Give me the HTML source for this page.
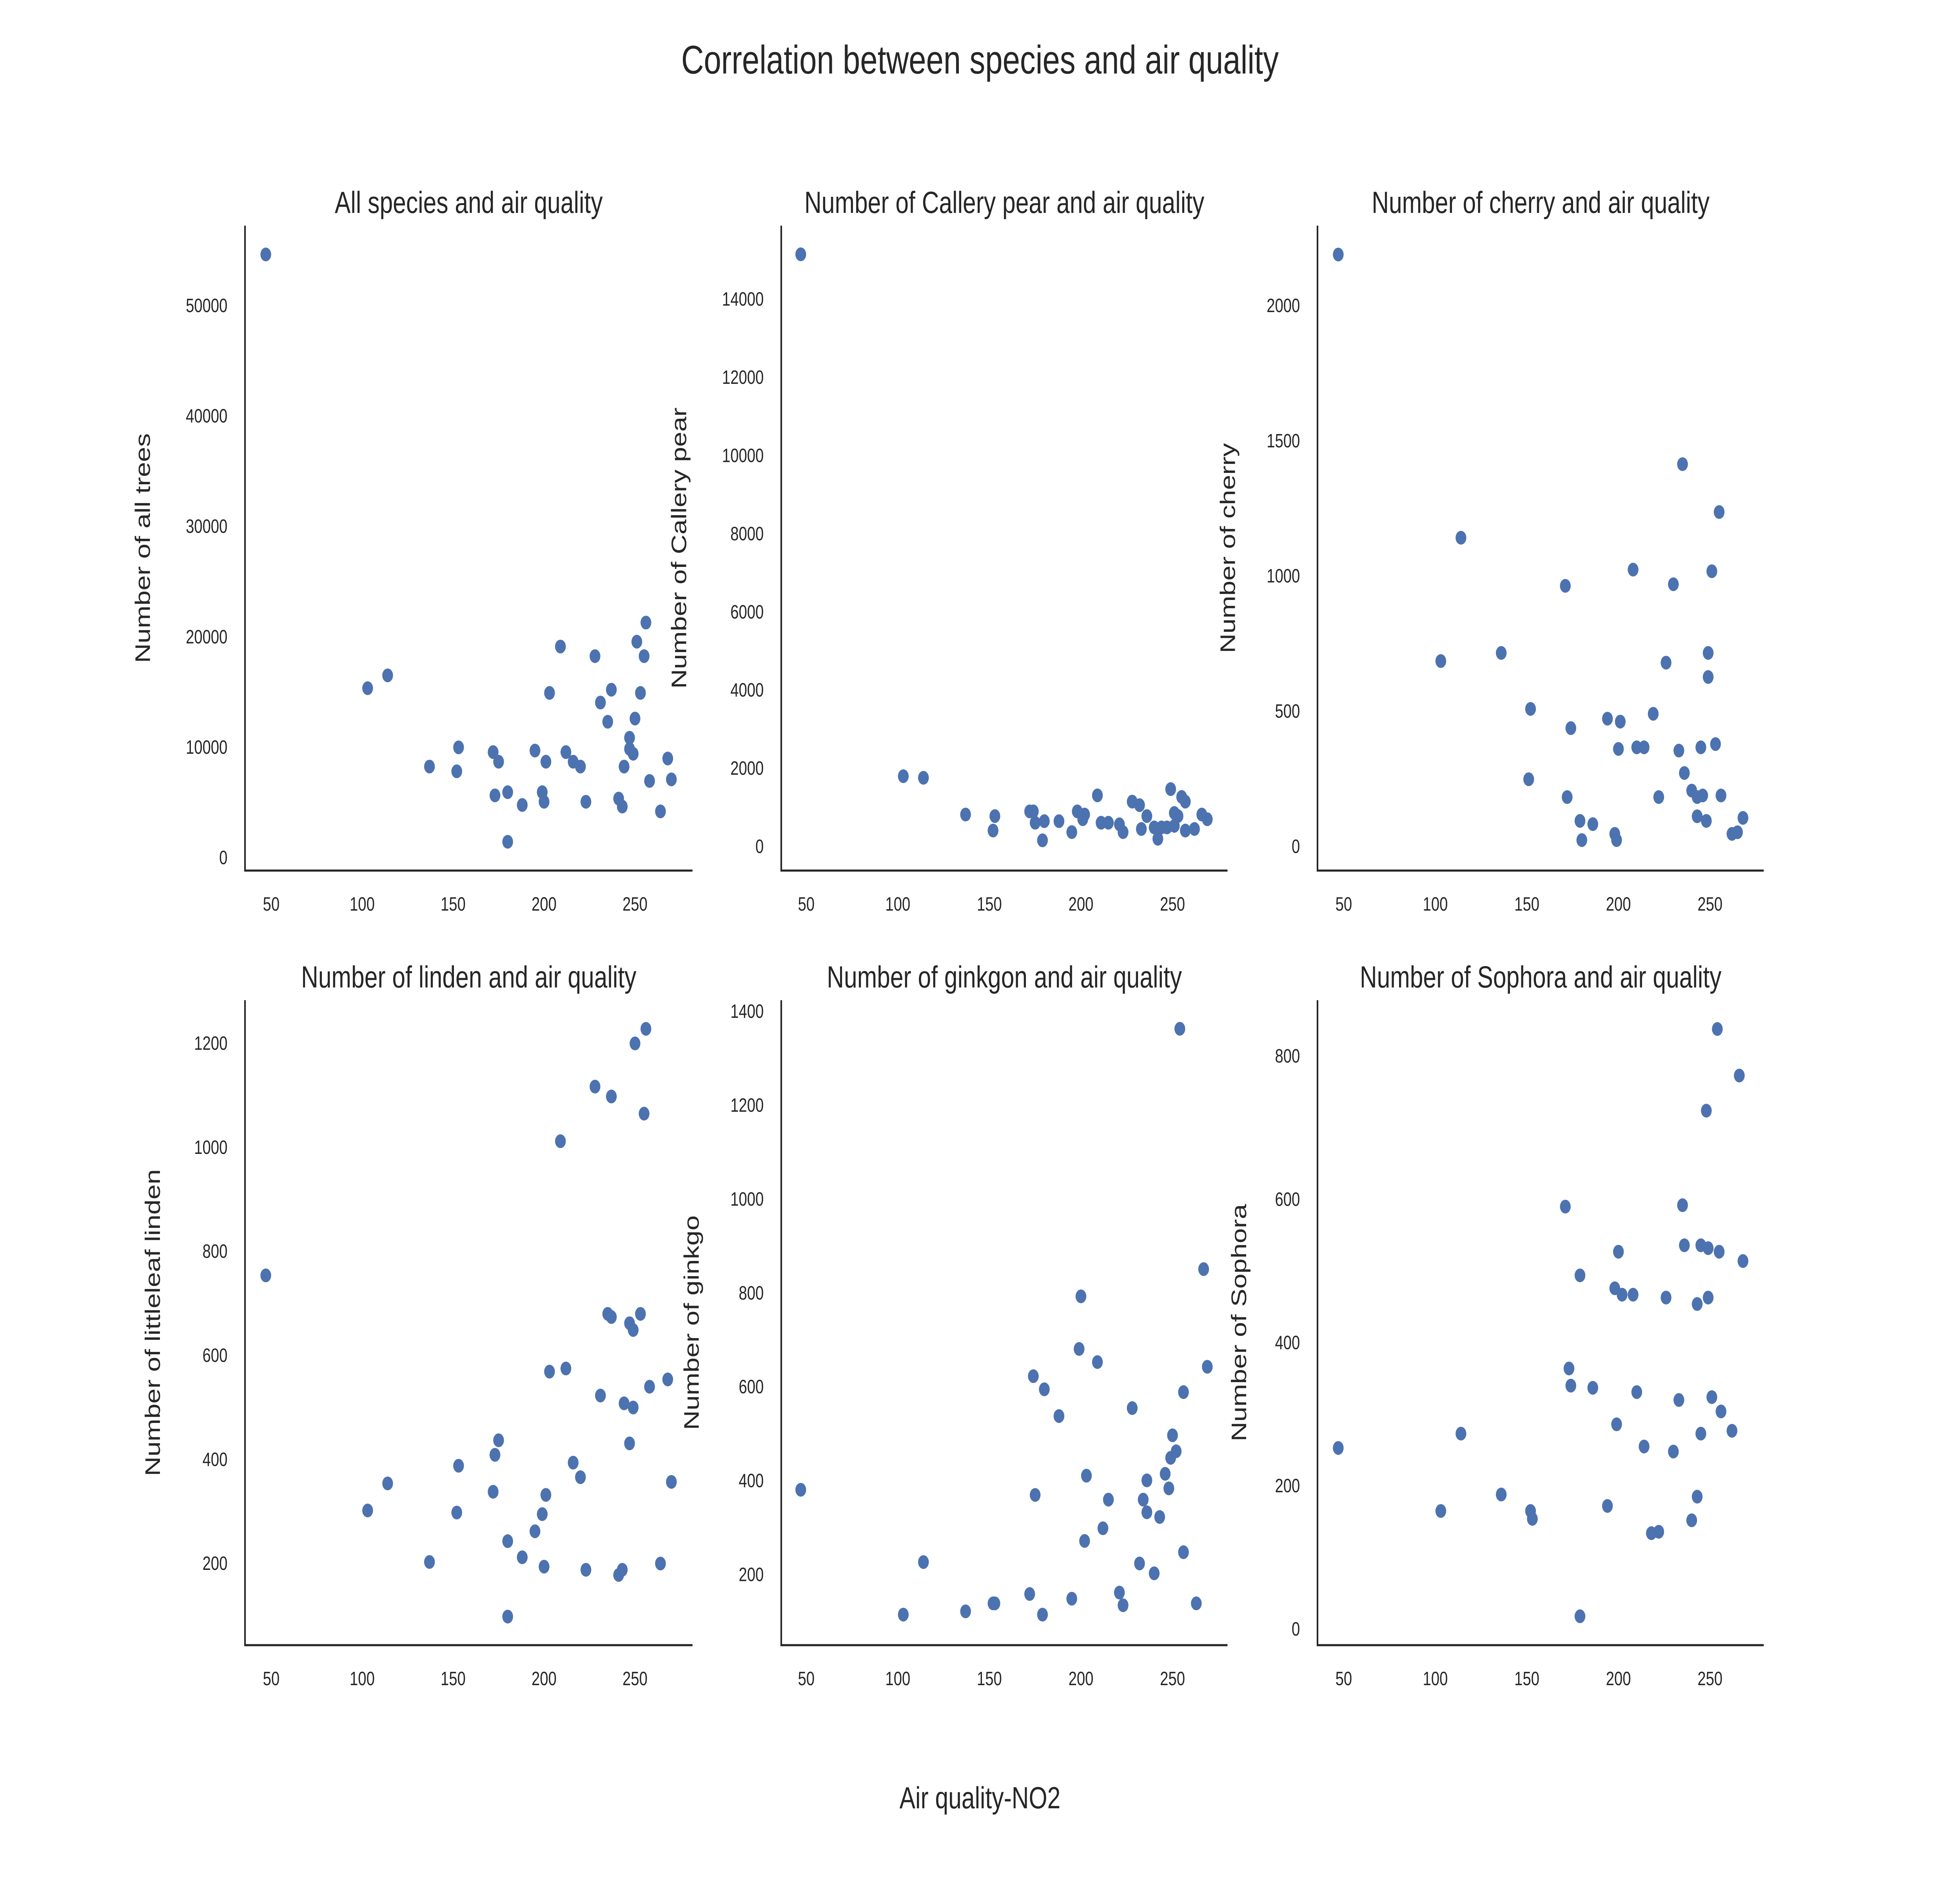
<!DOCTYPE html>
<html><head><meta charset="utf-8"><style>
html,body{margin:0;padding:0;background:#fff;width:100%;height:100%;overflow:hidden;}
svg{display:block;position:absolute;left:0;top:0;width:100vw;height:100vh;font-family:"Liberation Sans","DejaVu Sans",sans-serif;}
</style></head><body>
<svg id="chart" viewBox="0 0 1568 1176" preserveAspectRatio="none" xmlns="http://www.w3.org/2000/svg">
<rect width="1568" height="1176" fill="#fff"/>
<text x="784" y="46" font-size="25" text-anchor="middle" fill="#262626">Correlation between species and air quality</text>
<text x="784" y="1130" font-size="19" text-anchor="middle" fill="#262626">Air quality-NO2</text>
</svg>
<script>
const xTicks=[50,100,150,200,250];
const allX=[47,103,114,137,153,152,172,175,173,180,180,188,195,199,200,201,203,209,212,216,220,223,228,231,235,237,241,243,244,247,247,249,250,251,253,255,256,258,264,268,270];
const allY=[54640,15360,16520,8260,10000,7830,9570,8700,5650,5940,1450,4780,9710,5940,5070,8700,14930,19130,9570,8700,8260,5070,18260,14060,12320,15220,5360,4640,8260,10870,9860,9420,12610,19570,14930,18260,21300,6960,4200,8990,7100];
const pearX=[47,103,114,137,153,152,172,174,175,180,179,188,195,198,201,202,209,211,215,221,223,228,232,233,236,240,242,244,247,249,251,251,253,255,257,257,262,266,269];
const pearY=[15150,1800,1760,820,780,410,900,900,610,650,160,650,370,900,700,820,1310,610,610,570,370,1150,1060,450,780,490,200,490,490,1470,530,860,780,1270,1150,410,450,820,700];
const cherryX=[47,103,114,136,152,151,171,174,172,179,180,186,194,198,199,200,201,208,210,214,219,222,226,230,233,235,236,240,243,243,245,246,248,249,249,251,253,255,256,262,265,268];
const cherryY=[2189,686,1142,716,509,249,964,438,183,95,24,83,473,47,24,361,462,1024,367,367,491,183,680,970,355,1414,272,207,112,183,367,189,95,627,716,1018,379,1237,189,47,53,106];
const lindenX=[47,103,114,137,153,152,172,173,175,180,180,188,195,199,200,201,203,209,212,216,220,223,228,231,235,237,237,241,243,244,247,247,249,249,250,253,255,256,258,264,268,270];
const lindenY=[754,302,354,203,388,298,338,409,437,243,98,212,262,295,194,332,569,1012,575,394,366,188,1117,523,680,674,1098,178,188,508,662,431,649,500,1200,680,1065,1228,540,200,554,357];
const ginkgoX=[47,103,114,137,153,152,172,174,175,180,179,188,195,199,200,202,203,209,212,215,221,223,228,232,234,236,236,240,243,246,248,249,250,252,254,256,256,263,267,269];
const ginkgoY=[381,115,227,122,139,139,159,623,370,595,115,538,149,681,793,272,411,653,299,360,162,135,555,224,360,401,333,203,323,415,384,449,497,463,1363,248,589,139,851,643];
const sophoraX=[47,103,114,136,152,153,171,173,174,179,179,186,194,198,199,200,202,208,210,214,218,222,226,230,233,235,236,240,243,243,245,245,249,248,249,251,254,255,256,262,266,268];
const sophoraY=[253,165,273,188,165,154,590,364,340,494,18,337,172,476,286,527,467,467,331,255,134,136,463,248,320,592,536,152,454,185,273,536,532,724,463,324,838,527,304,277,773,514];
const ticksAll=[0,10000,20000,30000,40000,50000];
const ticksPear=[0,2000,4000,6000,8000,10000,12000,14000];
const ticksCherry=[0,500,1000,1500,2000];
const ticksLinden=[200,400,600,800,1000,1200];
const ticksGinkgo=[200,400,600,800,1000,1200,1400];
const ticksSophora=[0,200,400,600,800];

const NS="http://www.w3.org/2000/svg";
const svg=document.getElementById('chart');
function mk(tag,attrs,parent){const e=document.createElementNS(NS,tag);for(const k in attrs)e.setAttribute(k,attrs[k]);(parent||svg).appendChild(e);return e;}
function lin(d0,d1,r0,r1){return v=>r0+(v-d0)*(r1-r0)/(d1-d0);}

const panels=[
 {id:'all',title:'All species and air quality',ylab:'Number of all trees',L:196,R:554,T:141,B:544,xa:[50,217,250,508],ya:[0,536,50000,191],xs:allX,ys:allY,ticks:ticksAll,ylx:120},
 {id:'pear',title:'Number of Callery pear and air quality',ylab:'Number of Callery pear',L:625,R:982,T:141,B:544,xa:[50,645,250,938],ya:[0,529,14000,187],xs:pearX,ys:pearY,ticks:ticksPear,ylx:549},
 {id:'cherry',title:'Number of cherry and air quality',ylab:'Number of cherry',L:1054,R:1411,T:141,B:544,xa:[50,1075,250,1368],ya:[0,529,2000,191],xs:cherryX,ys:cherryY,ticks:ticksCherry,ylx:988},
 {id:'linden',title:'Number of linden and air quality',ylab:'Number of littleleaf linden',L:196,R:554,T:625,B:1028,xa:[50,217,250,508],ya:[200,977,1200,652],xs:lindenX,ys:lindenY,ticks:ticksLinden,ylx:128},
 {id:'ginkgo',title:'Number of ginkgon and air quality',ylab:'Number of ginkgo',L:625,R:982,T:625,B:1028,xa:[50,645,250,938],ya:[200,984,1400,632],xs:ginkgoX,ys:ginkgoY,ticks:ticksGinkgo,ylx:559},
 {id:'sophora',title:'Number of Sophora and air quality',ylab:'Number of Sophora',L:1054,R:1411,T:625,B:1028,xa:[50,1075,250,1368],ya:[0,1018,800,660],xs:sophoraX,ys:sophoraY,ticks:ticksSophora,ylx:997}
];
panels.forEach(p=>{
 const g=mk('g',{});
 
 
 const xf=lin(p.xa[0],p.xa[2],p.xa[1],p.xa[3]);
 const yf=lin(p.ya[0],p.ya[2],p.ya[1],p.ya[3]);
 const t=mk('text',{x:(p.L+p.R)/2,y:p.T-8,'font-size':19,'text-anchor':'middle',fill:'#262626'},g);
 t.textContent=p.title;
 
 
 const yl=mk('text',{x:p.ylx,y:(p.T+p.B)/2,'font-size':17,'text-anchor':'middle',fill:'#262626',transform:`rotate(-90 ${p.ylx} ${(p.T+p.B)/2})`},g);
 yl.textContent=p.ylab;
 
 
 const ax=mk('path',{d:`M${p.L} ${p.T} V${p.B} H${p.R}`,fill:'none',stroke:'#262626','stroke-width':1.3},g);
 
 
 xTicks.forEach(v=>{
  const e=mk('text',{x:xf(v),y:p.B+25,'font-size':12,'text-anchor':'middle',fill:'#262626'},g);
  e.textContent=v;
  
  
 });
 p.ticks.forEach(v=>{
  const e=mk('text',{x:p.L-14,y:yf(v)+4,'font-size':12,'text-anchor':'end',fill:'#262626'},g);
  e.textContent=v;
  
  
 });
 p.xs.forEach((xv,i)=>{
  const c=mk('circle',{cx:xf(xv),cy:yf(p.ys[i]),r:4.3,fill:'#4c72b0'},g);
  
  
 });
});
</script>
</body></html>
